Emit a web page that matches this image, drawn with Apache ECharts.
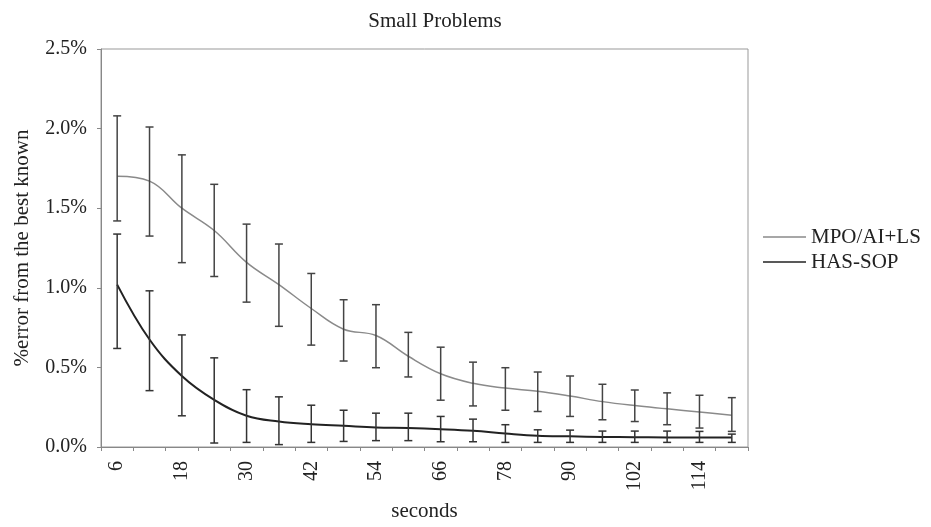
<!DOCTYPE html>
<html>
<head>
<meta charset="utf-8">
<script src="https://cdn.jsdelivr.net/npm/echarts@6/dist/echarts.min.js"></script>
<style>html,body{margin:0;padding:0;background:#fff;}#c{width:931px;height:527px;}</style>
</head>
<body>
<div id="c"></div>
<script>
const categories = ['6','12','18','24','30','36','42','48','54','60','66','72','78','84','90','96','102','108','114','120'];
const yTicks = [0, 0.5, 1.0, 1.5, 2.0, 2.5];

const mpoMean = [1.70, 1.67, 1.50, 1.36, 1.16, 1.02, 0.87, 0.74, 0.70, 0.57, 0.46, 0.40, 0.37, 0.35, 0.32, 0.285, 0.26, 0.24, 0.22, 0.20];
const mpoHigh = [2.08, 2.01, 1.835, 1.65, 1.40, 1.275, 1.09, 0.925, 0.894, 0.72, 0.627, 0.533, 0.498, 0.471, 0.446, 0.394, 0.358, 0.34, 0.325, 0.31];
const mpoLow  = [1.42, 1.325, 1.158, 1.071, 0.91, 0.758, 0.64, 0.54, 0.498, 0.44, 0.294, 0.258, 0.231, 0.223, 0.192, 0.171, 0.16, 0.14, 0.119, 0.098];

const hasMean = [1.02, 0.675, 0.446, 0.296, 0.196, 0.16, 0.143, 0.133, 0.123, 0.119, 0.112, 0.102, 0.085, 0.071, 0.067, 0.063, 0.062, 0.06, 0.06, 0.06];
const hasHigh = [1.3375, 0.981, 0.704, 0.56, 0.36, 0.315, 0.2625, 0.231, 0.2125, 0.2125, 0.192, 0.175, 0.14, 0.108, 0.106, 0.1, 0.1, 0.1, 0.098, 0.081];
const hasLow  = [0.619, 0.354, 0.196, 0.025, 0.029, 0.015, 0.029, 0.035, 0.04, 0.04, 0.033, 0.033, 0.029, 0.029, 0.029, 0.029, 0.029, 0.029, 0.029, 0.029];

const FONT = '"Liberation Serif", "Times New Roman", serif';
const TXT = '#222';

function errData(low, high) {
  return categories.map((c, i) => [i, low[i], high[i]]);
}
function errRender(color) {
  return function (params, api) {
    const x = api.value(0);
    const top = api.coord([x, api.value(2)]);
    const bot = api.coord([x, api.value(1)]);
    const hw = 4;
    const st = { stroke: color, lineWidth: 1.5 };
    return {
      type: 'group',
      children: [
        { type: 'line', shape: { x1: top[0], y1: top[1], x2: bot[0], y2: bot[1] }, style: st },
        { type: 'line', shape: { x1: top[0] - hw, y1: top[1], x2: top[0] + hw, y2: top[1] }, style: st },
        { type: 'line', shape: { x1: bot[0] - hw, y1: bot[1], x2: bot[0] + hw, y2: bot[1] }, style: st }
      ]
    };
  };
}

const chart = echarts.init(document.getElementById('c'), null, { renderer: 'canvas' });
chart.setOption({
  backgroundColor: '#fff',
  animation: false,
  title: {
    text: 'Small Problems',
    left: 430, top: 6, textAlign: 'center',
    textStyle: { fontFamily: FONT, fontSize: 21, fontWeight: 'normal', color: TXT }
  },
  legend: {
    orient: 'vertical', left: 758, top: 221,
    icon: 'rect', itemWidth: 43, itemHeight: 1.5, itemGap: 3,
    data: ['MPO/AI+LS', 'HAS-SOP'],
    textStyle: { fontFamily: FONT, fontSize: 21, color: TXT, lineHeight: 22 }
  },
  grid: {
    left: 101, right: 183, top: 49, bottom: 79,
    show: true, borderColor: '#999', borderWidth: 1, backgroundColor: 'transparent'
  },
  xAxis: {
    type: 'category', data: categories, boundaryGap: true,
    name: 'seconds', nameLocation: 'middle', nameGap: 54,
    nameTextStyle: { fontFamily: FONT, fontSize: 21, color: TXT },
    axisLine: { lineStyle: { color: '#888', width: 1 } },
    axisTick: { show: true, interval: 0, length: 4, lineStyle: { color: '#888' } },
    axisLabel: { interval: 1, rotate: 90, margin: 14, fontFamily: FONT, fontSize: 20, color: TXT },
    splitLine: { show: false }
  },
  yAxis: {
    type: 'value', min: yTicks[0], max: yTicks[yTicks.length - 1], interval: 0.5,
    name: '%error from the best known', nameLocation: 'middle', nameGap: 68, nameRotate: 90,
    nameTextStyle: { fontFamily: FONT, fontSize: 21, color: TXT },
    axisLine: { show: true, lineStyle: { color: '#888', width: 1 } },
    axisTick: { show: true, length: 4, lineStyle: { color: '#888' } },
    axisLabel: { margin: 14, fontFamily: FONT, fontSize: 20, color: TXT, formatter: v => v.toFixed(1) + '%' },
    splitLine: { show: false }
  },
  series: [
    {
      name: 'MPO/AI+LS', type: 'line', data: mpoMean, smooth: 0.4,
      symbol: 'none', lineStyle: { color: '#8a8a8a', width: 1.5 }, itemStyle: { color: '#8a8a8a' }, z: 2
    },
    {
      name: 'HAS-SOP', type: 'line', data: hasMean, smooth: 0.4,
      symbol: 'none', lineStyle: { color: '#222', width: 2 }, itemStyle: { color: '#222' }, z: 2
    },
    {
      name: 'mpoErr', type: 'custom', data: errData(mpoLow, mpoHigh),
      renderItem: errRender('#444'), encode: { x: 0, y: [1, 2] }, z: 3
    },
    {
      name: 'hasErr', type: 'custom', data: errData(hasLow, hasHigh),
      renderItem: errRender('#333'), encode: { x: 0, y: [1, 2] }, z: 3
    }
  ]
});
</script>
</body>
</html>
